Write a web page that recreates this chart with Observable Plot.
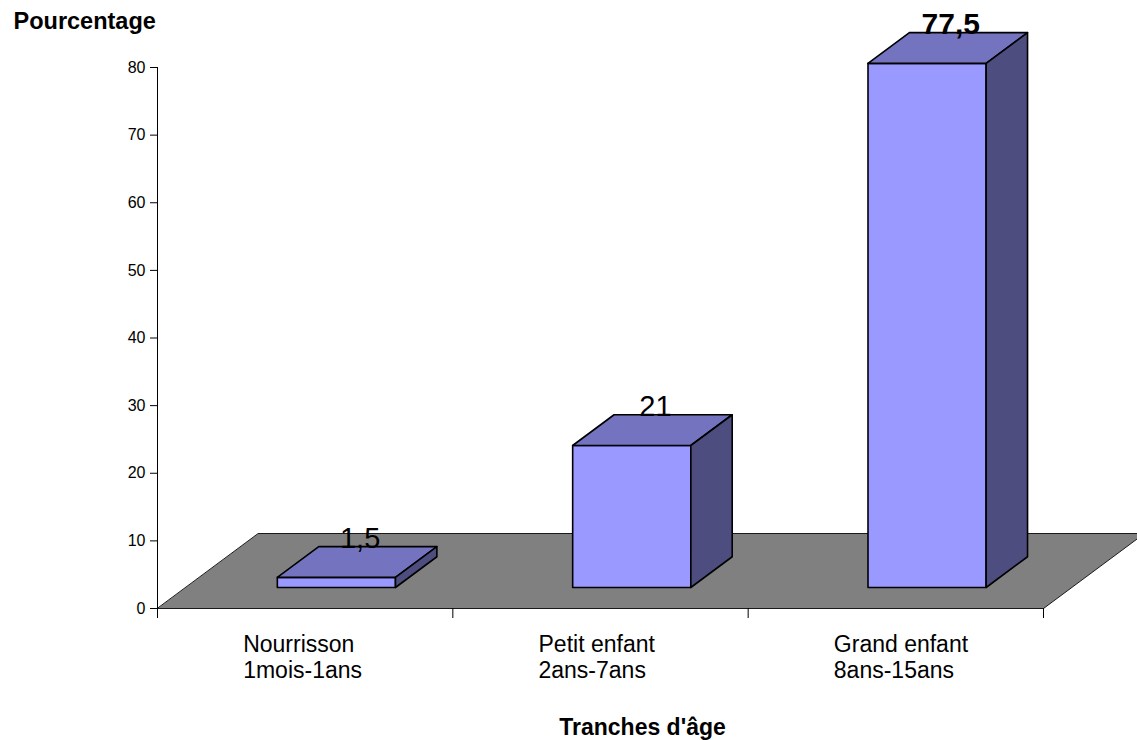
<!DOCTYPE html>
<html>
<head>
<meta charset="utf-8">
<script src="https://cdn.jsdelivr.net/npm/d3@7"></script>
<script src="https://cdn.jsdelivr.net/npm/@observablehq/plot@0.6"></script>
<style>
  html, body { margin: 0; padding: 0; background: #fff; }
  #chart svg { display: block; overflow: visible; }
</style>
</head>
<body>
<div id="chart"></div>
<script>
// ---- data ----
const categories = ["Nourrisson\n1mois-1ans", "Petit enfant\n2ans-7ans", "Grand enfant\n8ans-15ans"];
const values = [1.5, 21, 77.5];
const valueLabels = ["1,5", "21", "77,5"];
const yTicks = [0, 10, 20, 30, 40, 50, 60, 70, 80];
const yTitle = "Pourcentage";
const xTitle = "Tranches d'âge";

// ---- layout / projection ----
const W = 1137, H = 740;
const mL = 157, mR = 94, mT = 67, mB = 132;
const pxPerCat = (W - mL - mR) / categories.length;
const pxPerUnit = (H - mT - mB) / 80;
const depthDX = 101, depthDY = 75;           // floor depth in pixels
const dFront = 0.28, dBack = 0.69;          // bar depth in floor
const barStart = 0.31, barEnd = 0.71;       // bar extent inside band
const font = "'Liberation Sans', Arial, Helvetica, sans-serif";

function P(x, y, d) {
  return {x: x + d * depthDX / pxPerCat, y: y + d * depthDY / pxPerUnit};
}

const floor = [P(0,0,0), P(categories.length,0,0), P(categories.length,0,1), P(0,0,1)]
  .map(p => ({...p, id: "floor"}));

const fronts = [], tops = [], sides = [];
values.forEach((v, i) => {
  const x0 = i + barStart, x1 = i + barEnd;
  [P(x0,0,dFront), P(x1,0,dFront), P(x1,v,dFront), P(x0,v,dFront)].forEach(p => fronts.push({...p, id: i}));
  [P(x0,v,dFront), P(x1,v,dFront), P(x1,v,dBack), P(x0,v,dBack)].forEach(p => tops.push({...p, id: i}));
  [P(x1,0,dFront), P(x1,0,dBack), P(x1,v,dBack), P(x1,v,dFront)].forEach(p => sides.push({...p, id: i}));
});

const labels = values.map((v, i) => {
  const p = P(i + (barStart + barEnd) / 2, v, (dFront + dBack) / 2);
  const q = P(0, v, dBack);
  return {x: p.x, y: q.y, text: valueLabels[i], value: v};
});
const maxV = d3.max(values);

const catData = categories.map((c, i) => ({x: i + 0.5, y: 0, text: c}));

const chart = Plot.plot({
  width: W, height: H,
  marginLeft: mL, marginRight: mR, marginTop: mT, marginBottom: mB,
  style: {fontFamily: font, color: "#000", background: "#fff"},
  x: {type: "linear", domain: [0, categories.length], axis: null},
  y: {type: "linear", domain: [0, 80], axis: null},
  marks: [
    // floor
    Plot.line(floor, {x: "x", y: "y", z: "id", curve: "linear-closed", fill: "#808080", stroke: "#1a1a1a", strokeWidth: 1}),
    // y axis
    Plot.ruleX([0], {stroke: "#000", strokeWidth: 1}),
    Plot.axisY({ticks: yTicks, tickSize: 7, tickPadding: 5, fontSize: 16, stroke: "#000", strokeOpacity: 1, label: null, anchor: "left"}),
    // x ticks (no labels)
    Plot.axisX({ticks: d3.range(categories.length + 1), tickSize: 10, tickFormat: () => "", label: null, anchor: "bottom", stroke: "#000", strokeOpacity: 1}),
    // bars
    Plot.line(fronts, {x: "x", y: "y", z: "id", curve: "linear-closed", fill: "#9999FF", stroke: "#000", strokeWidth: 1.6}),
    Plot.line(tops, {x: "x", y: "y", z: "id", curve: "linear-closed", fill: "#7373BF", stroke: "#000", strokeWidth: 1.6}),
    Plot.line(sides, {x: "x", y: "y", z: "id", curve: "linear-closed", fill: "#4D4D80", stroke: "#000", strokeWidth: 1.6}),
    // value labels
    Plot.text(labels.filter(d => d.value !== maxV), {x: "x", y: "y", text: "text", fontSize: 29, lineAnchor: "bottom", dx: 3, dy: 1, fill: "#000"}),
    Plot.text(labels.filter(d => d.value === maxV), {x: "x", y: "y", text: "text", fontSize: 30, fontWeight: "bold", lineAnchor: "bottom", dx: 3, dy: 1, fill: "#000"}),
    // category labels
    Plot.text(catData, {x: "x", y: "y", text: "text", fontSize: 23, textAnchor: "start", lineAnchor: "top", lineHeight: 1.13, dx: -62, dy: 25, fill: "#000"}),
    // titles
    Plot.text([yTitle], {frameAnchor: "top-left", text: d => d, textAnchor: "start", lineAnchor: "bottom", fontSize: 23.5, fontWeight: "bold", dx: 13 - mL, dy: 28 - mT, fill: "#000"}),
    Plot.text([xTitle], {frameAnchor: "bottom", text: d => d, textAnchor: "middle", lineAnchor: "bottom", fontSize: 23, fontWeight: "bold", dx: 642 - (mL + (W - mL - mR) / 2), dy: 734 - (H - mB), fill: "#000"})
  ]
});
document.getElementById("chart").appendChild(chart);
</script>
</body>
</html>
